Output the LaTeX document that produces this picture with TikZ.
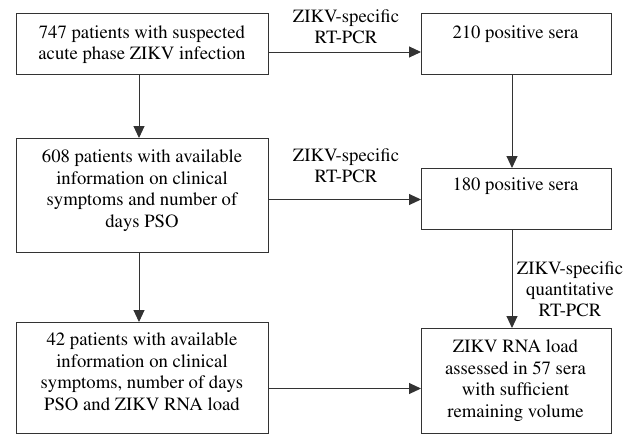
\documentclass[tikz,border=0pt]{standalone}
\usepackage[T1]{fontenc}
\usepackage{mathptmx}
\usetikzlibrary{arrows.meta}
\definecolor{linec}{gray}{0.2}
\tikzset{
  box/.style={draw=linec, line width=1pt, inner sep=0pt, outer sep=0pt},
  txt/.style={align=center, inner sep=0pt, anchor=north, font=\rmfamily\fontsize{18.7}{21.5}\selectfont},
  lbl/.style={align=center, inner sep=0pt, anchor=north, font=\rmfamily\fontsize{18.7}{21}\selectfont},
  arr/.style={draw=linec, line width=1pt, -{Triangle[length=12pt,width=11pt]}}
}
\begin{document}
\begin{tikzpicture}[x=1pt,y=-1pt]
\useasboundingbox (0,0) rectangle (638,434);
% boxes
\node[box, minimum width=252pt, minimum height=61pt]  (b1) at (142,43.5) {};
\node[box, minimum width=252pt, minimum height=114pt] (b2) at (142,195) {};
\node[box, minimum width=252pt, minimum height=111pt] (b3) at (142,377.5) {};
\node[box, minimum width=190pt, minimum height=61pt]  (r1) at (516,43.5) {};
\node[box, minimum width=190pt, minimum height=61pt]  (r2) at (516,198.5) {};
\node[box, minimum width=190pt, minimum height=105pt] (r3) at (516,380.5) {};
% texts
\node[txt] (t1) at (142,25.2) {747 patients with suspected\\acute phase ZIKV infection};
\node[txt] (t2) at (142,150) {608 patients with available\\information on clinical\\symptoms and number of\\days PSO};
\node[txt] (t3) at (142,333) {42 patients with available\\information on clinical\\symptoms, number of days\\PSO and ZIKV RNA load};
\node[txt] (s1) at (515.5,25.2) {210 positive sera};
\node[txt] (s2) at (515.5,178) {180 positive sera};
\node[txt] (s3) at (515.5,340) {ZIKV RNA load\\assessed in 57 sera\\with sufficient\\remaining volume};
% labels
\node[lbl] (l1) at (346,9.2) {ZIKV-specific\\RT-PCR};
\node[lbl] (l2) at (346,149) {ZIKV-specific\\RT-PCR};
\node[lbl] (l3) at (570,262) {ZIKV-specific\\quantitative\\RT-PCR};
% helper coordinates
\coordinate (h1) at (0,52);
\coordinate (h2) at (0,199.5);
\coordinate (h3) at (0,388.5);
\coordinate (vl) at (139,0);
\coordinate (vr) at (512,0);
% connectors
\draw[arr] (b1.east |- h1) -- (r1.west |- h1);
\draw[arr] (b2.east |- h2) -- (r2.west |- h2);
\draw[arr] (b3.east |- h3) -- (r3.west |- h3);
\draw[arr] (b1.south -| vl) -- (b2.north -| vl);
\draw[arr] (b2.south -| vl) -- (b3.north -| vl);
\draw[arr] (r1.south -| vr) -- (r2.north -| vr);
\draw[arr] (r2.south -| vr) -- (r3.north -| vr);
\end{tikzpicture}
\end{document}
